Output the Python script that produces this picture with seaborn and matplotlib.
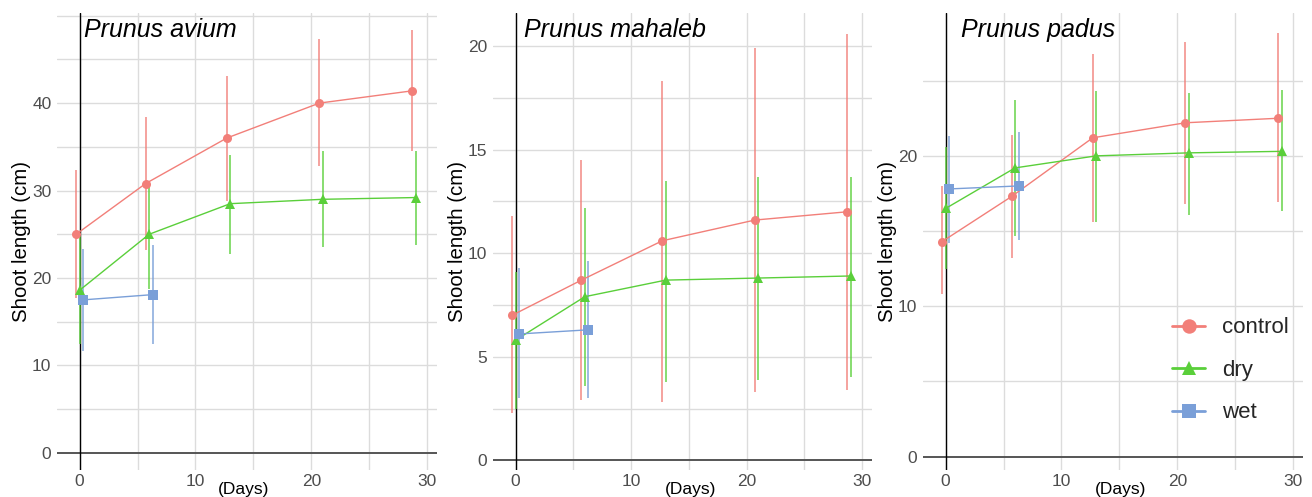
import numpy as np
import pandas as pd
import matplotlib
matplotlib.use("Agg")
import matplotlib.pyplot as plt
import matplotlib.transforms as mtransforms
import seaborn as sns

# ---------------- data ----------------
species = ["Prunus avium", "Prunus mahaleb", "Prunus padus"]
groups = ["control", "dry", "wet"]
days = [0, 6, 13, 21, 29]
wet_days = [0, 6]

# Prunus avium
avium_control_mean = [25.0, 30.8, 36.0, 40.0, 41.4]
avium_control_lo = [17.7, 23.2, 28.8, 32.8, 34.5]
avium_control_hi = [32.3, 38.4, 43.1, 47.3, 48.3]
avium_dry_mean = [18.6, 25.0, 28.5, 29.0, 29.2]
avium_dry_lo = [12.4, 18.7, 22.8, 23.5, 23.8]
avium_dry_hi = [24.8, 30.7, 34.1, 34.5, 34.5]
avium_wet_mean = [17.5, 18.1]
avium_wet_lo = [11.6, 12.5]
avium_wet_hi = [23.3, 23.8]

# Prunus mahaleb
mahaleb_control_mean = [7.0, 8.7, 10.6, 11.6, 12.0]
mahaleb_control_lo = [2.3, 2.9, 2.8, 3.3, 3.4]
mahaleb_control_hi = [11.8, 14.5, 18.3, 19.9, 20.6]
mahaleb_dry_mean = [5.8, 7.9, 8.7, 8.8, 8.9]
mahaleb_dry_lo = [2.5, 3.6, 3.8, 3.9, 4.0]
mahaleb_dry_hi = [9.1, 12.2, 13.5, 13.7, 13.7]
mahaleb_wet_mean = [6.1, 6.3]
mahaleb_wet_lo = [3.0, 3.0]
mahaleb_wet_hi = [9.3, 9.6]

# Prunus padus
padus_control_mean = [14.3, 17.3, 21.2, 22.2, 22.5]
padus_control_lo = [10.8, 13.2, 15.6, 16.8, 16.9]
padus_control_hi = [18.0, 21.4, 26.8, 27.6, 28.2]
padus_dry_mean = [16.5, 19.2, 20.0, 20.2, 20.3]
padus_dry_lo = [12.5, 14.7, 15.6, 16.1, 16.3]
padus_dry_hi = [20.6, 23.7, 24.3, 24.2, 24.4]
padus_wet_mean = [17.8, 18.0]
padus_wet_lo = [14.2, 14.4]
padus_wet_hi = [21.3, 21.6]

y_ticks = [[0, 10, 20, 30, 40], [0, 5, 10, 15, 20], [0, 10, 20]]
x_ticks = [0, 10, 20, 30]

# ---------------- build long table ----------------
series = {
    "Prunus avium": {
        "control": (days, avium_control_mean, avium_control_lo, avium_control_hi),
        "dry": (days, avium_dry_mean, avium_dry_lo, avium_dry_hi),
        "wet": (wet_days, avium_wet_mean, avium_wet_lo, avium_wet_hi),
    },
    "Prunus mahaleb": {
        "control": (days, mahaleb_control_mean, mahaleb_control_lo, mahaleb_control_hi),
        "dry": (days, mahaleb_dry_mean, mahaleb_dry_lo, mahaleb_dry_hi),
        "wet": (wet_days, mahaleb_wet_mean, mahaleb_wet_lo, mahaleb_wet_hi),
    },
    "Prunus padus": {
        "control": (days, padus_control_mean, padus_control_lo, padus_control_hi),
        "dry": (days, padus_dry_mean, padus_dry_lo, padus_dry_hi),
        "wet": (wet_days, padus_wet_mean, padus_wet_lo, padus_wet_hi),
    },
}
dodge = {"control": -0.3, "dry": 0.0, "wet": 0.3}
rows = []
for sp, gdict in series.items():
    for g, (d, m, lo, hi) in gdict.items():
        for di, mi, li, hii in zip(d, m, lo, hi):
            rows.append(dict(species=sp, group=g, day=di, x=di + dodge[g],
                             mean=mi, lo=li, hi=hii))
df = pd.DataFrame(rows)

# ---------------- style ----------------
sns.set_theme(style="white")
plt.rcParams["font.family"] = ["Liberation Sans", "DejaVu Sans"]

palette = {"control": "#F27F79", "dry": "#5ACF3A", "wet": "#7A9FD8"}
markers = {"control": "o", "dry": "^", "wet": "s"}

W, H = 1312, 497
fig = plt.figure(figsize=(W / 100, H / 100), dpi=100)

rects_px = [(57, 437), (493, 872), (923, 1303)]
top_px, bot_px = 13, 470
ylims = [(-1.95, 50.3), (-0.47, 21.6), (-0.89, 29.5)]
minor_steps = [5, 2.5, 5]
title_off_px = [4, 8, 15]
days_lab_x = [0.49, 0.52, 0.52]
grid_c = "#DCDCDC"

axes = []
for i, sp in enumerate(species):
    l, r = rects_px[i]
    ax = fig.add_axes([l / W, (H - bot_px) / H, (r - l) / W, (bot_px - top_px) / H])
    axes.append(ax)
    sub = df[df.species == sp]
    ax.set_xlim(-1.95, 30.85)
    ax.set_ylim(*ylims[i])

    # grid
    for gx in np.arange(0, 31, 5):
        ax.axvline(gx, color=grid_c, lw=1, zorder=0)
    for gy in np.arange(minor_steps[i], ylims[i][1], minor_steps[i]):
        ax.axhline(gy, color=grid_c, lw=1, zorder=0)
    ax.axhline(0, color="#555555", lw=1.4, zorder=1)
    ax.axvline(0, color="black", lw=1, zorder=1)

    # error bars
    for g in groups:
        gs = sub[sub.group == g]
        ax.vlines(gs["x"], gs["lo"], gs["hi"], color=palette[g], lw=1.2,
                  alpha=0.85, zorder=2)

    sns.lineplot(data=sub, x="x", y="mean", hue="group", style="group",
                 hue_order=groups, style_order=groups, palette=palette,
                 markers=markers, dashes=False, markersize=6.5,
                 markeredgewidth=0, linewidth=1, errorbar=None,
                 legend=(i == 2), ax=ax, zorder=3)

    for s in ax.spines.values():
        s.set_visible(False)
    ax.set_xticks(x_ticks)
    ax.set_yticks(y_ticks[i])
    ax.tick_params(axis="both", length=0, labelsize=12.5, colors="#4D4D4D")
    ax.tick_params(axis="x", pad=3)
    ax.tick_params(axis="y", pad=4)
    ax.set_ylabel("Shoot length (cm)", fontsize=14.7, color="black", labelpad=0.5)
    ax.set_xlabel("(Days)", fontsize=12.5, color="black")
    ax.xaxis.set_label_coords(days_lab_x[i], -0.026)

    trans = mtransforms.blended_transform_factory(ax.transData, ax.transAxes)
    off = mtransforms.ScaledTranslation(title_off_px[i] / 100, 0, fig.dpi_scale_trans)
    ax.text(0, 0.962, sp, transform=trans + off, fontsize=18, style="italic",
            color="black", ha="left", va="center")

ax3 = axes[2]
handles, labels = ax3.get_legend_handles_labels()
leg = ax3.legend(handles, labels, loc="upper left", bbox_to_anchor=(0.655, 0.334),
                 frameon=False, fontsize=16, markerscale=1.6, handlelength=1.5,
                 handletextpad=0.77, labelspacing=0.97, borderpad=0,
                 borderaxespad=0)
for h in leg.get_lines():
    h.set_linewidth(2)

fig.savefig("out.png", dpi=100)
